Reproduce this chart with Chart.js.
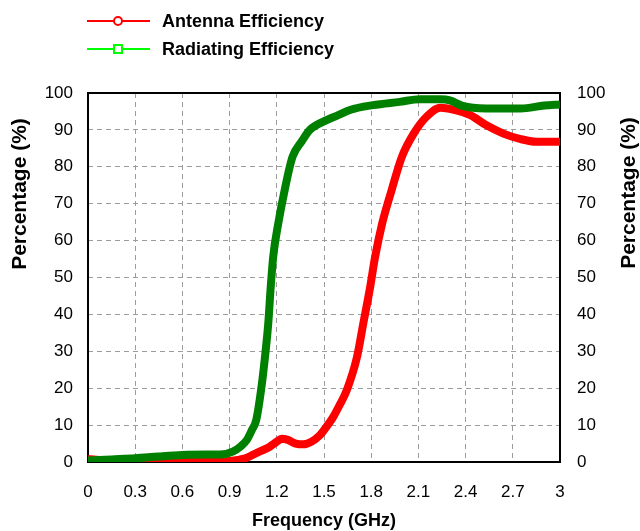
<!DOCTYPE html>
<html>
<head>
<meta charset="utf-8">
<title>Antenna / Radiating Efficiency</title>
<script src="https://cdn.jsdelivr.net/npm/chart.js@4.4.0/dist/chart.umd.min.js"></script>
<style>
  html, body { margin: 0; padding: 0; background: #fff; }
  #wrap { position: relative; width: 640px; height: 531px; }
</style>
</head>
<body>
<div id="wrap"><canvas id="effChart"></canvas></div>
<script>
// valeurs (GHz, %)
const freqAntenna = [0, 0.1, 0.3, 0.6, 0.9, 1.0, 1.05, 1.1, 1.15, 1.2, 1.23, 1.27, 1.32, 1.37, 1.42,
  1.475, 1.52, 1.56, 1.6, 1.645, 1.71, 1.75, 1.79, 1.825, 1.87, 1.93, 1.995, 2.07, 2.15, 2.24,
  2.32, 2.43, 2.53, 2.64, 2.75, 2.85, 3.0];
const antennaEff = [0.8, 0.5, 0.1, 0.1, 0.3, 1.0, 2.0, 3.0, 4.0, 5.5, 6.3, 6.0, 5.0, 4.8, 5.5,
  7.3, 9.8, 12.3, 15.5, 19.5, 28.5, 37.6, 46.6, 55.6, 64.7, 73.7, 82.7, 89, 93.5, 96,
  95.5, 94, 91.3, 89, 87.5, 86.8, 86.8];

const freqRadiating = [0, 0.15, 0.3, 0.45, 0.6, 0.75, 0.84, 0.92, 0.97, 1.01, 1.04, 1.07, 1.1,
  1.125, 1.146, 1.16, 1.177, 1.21, 1.25, 1.3, 1.36, 1.41, 1.52, 1.59, 1.665, 1.81, 1.98, 2.11,
  2.24, 2.3, 2.38, 2.53, 2.75, 2.9, 3.0];
const radiatingEff = [0.4, 0.7, 1.0, 1.5, 1.9, 2.0, 2.0, 2.8, 4.2, 6.0, 8.5, 11.5, 19.5,
  28.5, 37.7, 46.6, 55.6, 64.8, 73.7, 82.7, 87, 90, 92.7, 94, 95.4, 96.7, 97.6, 98.3,
  98.3, 98.0, 96.5, 95.8, 95.8, 96.6, 96.9];

const freqTicks = [0, 0.3, 0.6, 0.9, 1.2, 1.5, 1.8, 2.1, 2.4, 2.7, 3];
const pctTicks = [0, 10, 20, 30, 40, 50, 60, 70, 80, 90, 100];
const seriesNames = ['Antenna Efficiency', 'Radiating Efficiency'];
const yTitle = 'Percentage (%)';
const xTitle = 'Frequency (GHz)';

const FONT = "'Liberation Sans', Arial, sans-serif";
Chart.defaults.font.family = FONT;
Chart.defaults.color = '#000';

function toPoints(xs, ys) {
  return xs.map((x, i) => ({ x: x, y: ys[i] }));
}

// cadre noir autour de la zone de tracé
const framePlugin = {
  id: 'frame',
  beforeDatasetsDraw(chart) {
    const { ctx, chartArea: a } = chart;
    ctx.save();
    ctx.strokeStyle = '#000';
    ctx.lineWidth = 2;
    ctx.strokeRect(a.left, a.top, a.right - a.left, a.bottom - a.top);
    ctx.restore();
  }
};

// légende en colonne + titres verticaux (lus de bas en haut des deux côtés)
const legendColors = ['#ff0000', '#00ff00'];
const decorPlugin = {
  id: 'decor',
  afterDraw(chart) {
    const ctx = chart.ctx;
    ctx.save();
    seriesNames.forEach((name, i) => {
      const y = 21 + i * 28;
      ctx.strokeStyle = legendColors[i];
      ctx.lineWidth = 2;
      ctx.beginPath();
      ctx.moveTo(87, y);
      ctx.lineTo(150, y);
      ctx.stroke();
      ctx.fillStyle = '#fff';
      if (i === 0) {
        ctx.beginPath();
        ctx.arc(118, y, 4, 0, Math.PI * 2);
        ctx.fill();
        ctx.stroke();
      } else {
        ctx.fillRect(114, y - 4, 8, 8);
        ctx.strokeRect(114, y - 4, 8, 8);
      }
      ctx.fillStyle = '#000';
      ctx.font = "bold 18px " + FONT;
      ctx.textAlign = 'left';
      ctx.textBaseline = 'middle';
      ctx.fillText(name, 162, y + 1);
    });

    ctx.font = "bold 21px " + FONT;
    ctx.textAlign = 'center';
    ctx.textBaseline = 'middle';
    [[20, 194], [629, 193]].forEach(p => {
      ctx.save();
      ctx.translate(p[0], p[1]);
      ctx.rotate(-Math.PI / 2);
      ctx.fillText(yTitle, 0, 0);
      ctx.restore();
    });
    ctx.restore();
  }
};

const gridStyle = { color: '#9c9c9c', lineWidth: 1, drawTicks: false };
const borderStyle = { display: false, dash: [5, 4] };

new Chart(document.getElementById('effChart'), {
  type: 'line',
  data: {
    datasets: [{
      label: seriesNames[0],
      data: toPoints(freqAntenna, antennaEff),
      borderColor: '#ff0000',
      backgroundColor: '#ff0000',
      borderWidth: 8,
      pointRadius: 0,
      cubicInterpolationMode: 'monotone',
      order: 2
    }, {
      label: seriesNames[1],
      data: toPoints(freqRadiating, radiatingEff),
      borderColor: '#008000',
      backgroundColor: '#008000',
      borderWidth: 8,
      pointRadius: 0,
      cubicInterpolationMode: 'monotone',
      order: 1
    }]
  },
  options: {
    responsive: true,
    maintainAspectRatio: false,
    animation: false,
    layout: { padding: { top: 93, left: 0, right: 0, bottom: 0 } },
    plugins: { legend: { display: false }, tooltip: { enabled: false } },
    scales: {
      x: {
        type: 'linear',
        min: 0, max: 3,
        afterBuildTicks: s => { s.ticks = freqTicks.map(v => ({ value: v })); },
        afterFit: s => { s.height = 69; },
        grid: gridStyle,
        border: borderStyle,
        ticks: {
          padding: 20,
          maxRotation: 0,
          font: { size: 17 },
          callback: v => String(+v.toFixed(1))
        },
        title: {
          display: true,
          text: xTitle,
          font: { size: 18, weight: 'bold', lineHeight: 1 },
          padding: { top: 0, bottom: 1 }
        }
      },
      y: {
        min: 0, max: 100,
        afterBuildTicks: s => { s.ticks = pctTicks.map(v => ({ value: v })); },
        afterFit: s => { s.width = 88; },
        grid: gridStyle,
        border: borderStyle,
        ticks: { padding: 15, font: { size: 17 } }
      },
      y2: {
        position: 'right',
        min: 0, max: 100,
        afterBuildTicks: s => { s.ticks = pctTicks.map(v => ({ value: v })); },
        afterFit: s => { s.width = 80; },
        grid: { display: false, drawTicks: false },
        border: { display: false },
        ticks: { padding: 17, font: { size: 17 } }
      }
    }
  },
  plugins: [framePlugin, decorPlugin]
});
</script>
</body>
</html>
